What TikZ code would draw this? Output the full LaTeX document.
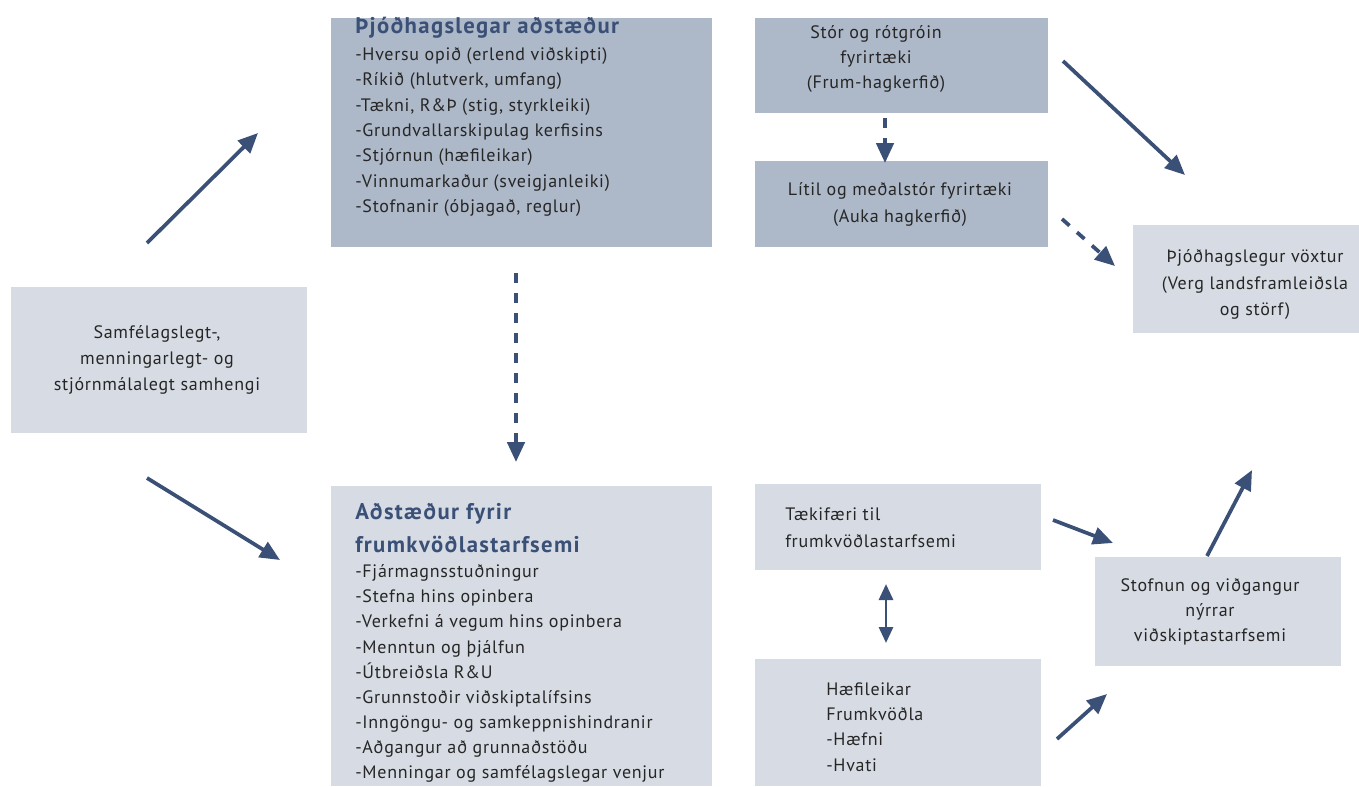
\documentclass[tikz,border=0pt]{standalone}
\usepackage{fontspec}
\setmainfont{PT Sans}[LetterSpace=4]
\usetikzlibrary{arrows.meta,fit}
\definecolor{darkbox}{HTML}{ADB8C8}
\definecolor{lightbox}{HTML}{D7DCE4}
\definecolor{arrowblue}{HTML}{3A5077}
\begin{document}
\begin{tikzpicture}[x=0.75pt,y=-0.75pt,
    darkfill/.style={fill=darkbox,inner sep=0pt},
    lightfill/.style={fill=lightbox,inner sep=0pt},
    txt/.style={font=\fontsize{13.5}{19}\selectfont,text=black!85,inner sep=0pt},
    head/.style={font=\fontsize{17}{24.75}\selectfont\bfseries\addfontfeature{LetterSpace=6},text=arrowblue,inner sep=0pt},
    arr/.style={draw=arrowblue,line width=2.8pt,-{Triangle[length=15pt,width=13pt]}},
    dasharr/.style={arr,dash pattern=on 7.5pt off 7.5pt}]
  \useasboundingbox (0,0) rectangle (1359,786);
  % boxes
  \node [lightfill, fit={(11,287) (307,433)}] (ctx) {};
  \node [darkfill, fit={(331,18) (712,247)}] (macro) {};
  \node [darkfill, fit={(755,18) (1048,113)}] (bigfirms) {};
  \node [darkfill, fit={(755,161) (1048,247)}] (smefirms) {};
  \node [lightfill, fit={(1133,225) (1359,333)}] (growth) {};
  \node [lightfill, fit={(331,486) (712,786)}] (entre) {};
  \node [lightfill, fit={(755,484) (1041,570)}] (opport) {};
  \node [lightfill, fit={(755,659) (1041,786)}] (capab) {};
  \node [lightfill, fit={(1095,557) (1341,666)}] (newbiz) {};
  % texts
  \node [txt, align=center, font=\fontsize{13.5}{19.5}\selectfont] (ctxtext) at (157, 360)
    {Samfélagslegt-,\\menningarlegt- og\\stjórnmálalegt samhengi};
  \node [head, anchor=west] (macrohead) at (355, 28) {Þjóðhagslegar aðstæður};
  \node [txt, align=left, anchor=west] (macrolist) at (355, 132)
    {-Hversu opið (erlend viðskipti)\\-Ríkið (hlutverk, umfang)\\-Tækni, R\&Þ (stig, styrkleiki)\\
     -Grundvallarskipulag kerfisins\\-Stjórnun (hæfileikar)\\-Vinnumarkaður (sveigjanleiki)\\
     -Stofnanir (óbjagað, reglur)};
  \node [txt, align=center] (bigtext) at (876, 59) {Stór og rótgróin\\fyrirtæki\\(Frum-hagkerfið)};
  \node [txt, align=center, font=\fontsize{13.5}{20}\selectfont] (smetext) at (900, 204.5)
    {Lítil og meðalstór fyrirtæki\\(Auka hagkerfið)};
  \node [txt, align=center, font=\fontsize{13.5}{20}\selectfont] (growthtext) at (1255, 284.5)
    {Þjóðhagslegur vöxtur\\(Verg landsframleiðsla\\og störf)};
  \node [head, align=left, anchor=west] (entrehead) at (355, 528.5) {Aðstæður fyrir\\frumkvöðlastarfsemi};
  \node [txt, align=left, anchor=west, font=\fontsize{13.5}{18.8}\selectfont] (entrelist) at (355, 673.5)
    {-Fjármagnsstuðningur\\-Stefna hins opinbera\\-Verkefni á vegum hins opinbera\\
     -Menntun og þjálfun\\-Útbreiðsla R\&U\\-Grunnstoðir viðskiptalífsins\\
     -Inngöngu- og samkeppnishindranir\\-Aðgangur að grunnaðstöðu\\
     -Menningar og samfélagslegar venjur};
  \node [txt, align=left, anchor=west, font=\fontsize{13.5}{20}\selectfont] (opptext) at (785, 527.5)
    {Tækifæri til\\frumkvöðlastarfsemi};
  \node [txt, align=left, anchor=west] (captext) at (826, 727)
    {Hæfileikar\\Frumkvöðla\\-Hæfni\\-Hvati};
  \node [txt, align=center] (newbiztext) at (1210, 612)
    {Stofnun og viðgangur\\nýrrar\\viðskiptastarfsemi};
  % arrow ends
  \coordinate (c1) at (147,243);   \coordinate (m1) at (258,133);
  \coordinate (c2) at (147,478);   \coordinate (e1) at (280,560);
  \coordinate (m2) at (516,273);   \coordinate (e2) at (516,462);
  \coordinate (b1) at (885,118);   \coordinate (s1) at (885,163);
  \coordinate (b2) at (1063,61);   \coordinate (g1) at (1185,175);
  \coordinate (s2) at (1062,219);  \coordinate (g2) at (1115,266);
  \coordinate (o1) at (1053,520);  \coordinate (n1) at (1113,543);
  \coordinate (o2) at (886,584);   \coordinate (h1) at (886,643);
  \coordinate (h2) at (1057,739);  \coordinate (n2) at (1107,694);
  \coordinate (n3) at (1207,556);  \coordinate (g3) at (1252,470);
  % arrows
  \draw [arr] (c1) -- (m1);
  \draw [arr] (c2) -- (e1);
  \draw [dasharr] (m2) -- (e2);
  \draw [dasharr] (b1) -- (s1);
  \draw [arr] (b2) -- (g1);
  \draw [dasharr] (s2) -- (g2);
  \draw [arr] (o1) -- (n1);
  \draw [arr, line width=2.2pt, {Triangle[length=12pt,width=10.5pt]}-{Triangle[length=12pt,width=10.5pt]}] (o2) -- (h1);
  \draw [arr] (h2) -- (n2);
  \draw [arr] (n3) -- (g3);
\end{tikzpicture}
\end{document}
